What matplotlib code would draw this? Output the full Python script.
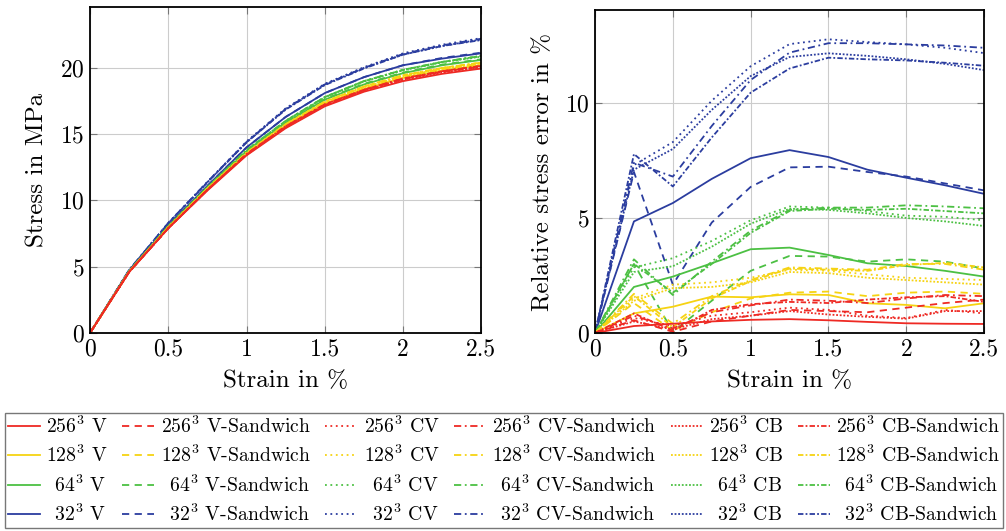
import matplotlib
matplotlib.use("Agg")
import matplotlib.pyplot as plt

plt.rcParams["font.family"] = "cmr10"
plt.rcParams["mathtext.fontset"] = "cm"
plt.rcParams["axes.formatter.use_mathtext"] = True

strain = [0, 0.25, 0.5, 0.75, 1.0, 1.25, 1.5, 1.75, 2.0, 2.25, 2.5]

resolutions = ["256", "128", "64", "32"]
methods = ["V", "V-Sandwich", "CV", "CV-Sandwich", "CB", "CB-Sandwich"]
colors = {"256": "#ee2a24", "128": "#f6d312", "64": "#4cc043", "32": "#2b3d9f"}
styles = {"V": "-", "V-Sandwich": (0, (4, 3)), "CV": (0, (1, 2)),
          "CV-Sandwich": (0, (4, 2, 1, 2)), "CB": (0, (1, 1)),
          "CB-Sandwich": (0, (3, 1.2, 1, 1.2))}

# stress in MPa (left)
stress_256_V = [0, 4.6, 7.9, 10.75, 13.4, 15.45, 17.1, 18.2, 19.0, 19.55, 19.95]
stress_256_VS = [0, 4.6, 7.9, 10.8, 13.45, 15.55, 17.2, 18.3, 19.15, 19.7, 20.1]
stress_256_CV = [0, 4.6, 7.9, 10.8, 13.45, 15.55, 17.2, 18.3, 19.1, 19.7, 20.05]
stress_256_CVS = [0, 4.6, 7.9, 10.8, 13.5, 15.6, 17.25, 18.35, 19.2, 19.75, 20.15]
stress_256_CB = [0, 4.6, 7.9, 10.8, 13.45, 15.5, 17.15, 18.3, 19.1, 19.65, 20.05]
stress_256_CBS = [0, 4.6, 7.9, 10.8, 13.5, 15.6, 17.25, 18.35, 19.2, 19.75, 20.15]

stress_128_V = [0, 4.62, 7.95, 10.85, 13.5, 15.6, 17.3, 18.4, 19.25, 19.8, 20.2]
stress_128_VS = [0, 4.62, 7.95, 10.85, 13.55, 15.65, 17.35, 18.45, 19.35, 19.9, 20.3]
stress_128_CV = [0, 4.63, 7.98, 10.9, 13.6, 15.75, 17.45, 18.55, 19.4, 19.95, 20.35]
stress_128_CVS = [0, 4.63, 7.98, 10.9, 13.6, 15.75, 17.45, 18.6, 19.45, 20.0, 20.4]
stress_128_CB = [0, 4.63, 7.97, 10.9, 13.58, 15.72, 17.42, 18.53, 19.38, 19.93, 20.33]
stress_128_CBS = [0, 4.63, 7.98, 10.9, 13.6, 15.76, 17.46, 18.6, 19.45, 20.0, 20.4]

stress_64_V = [0, 4.65, 8.0, 10.95, 13.7, 15.85, 17.6, 18.75, 19.6, 20.2, 20.6]
stress_64_VS = [0, 4.65, 8.0, 10.95, 13.7, 15.9, 17.65, 18.8, 19.65, 20.25, 20.65]
stress_64_CV = [0, 4.67, 8.05, 11.0, 13.8, 16.0, 17.8, 19.0, 19.85, 20.45, 20.9]
stress_64_CVS = [0, 4.67, 8.05, 11.0, 13.8, 16.0, 17.8, 19.0, 19.85, 20.45, 20.9]
stress_64_CB = [0, 4.67, 8.04, 11.0, 13.78, 15.98, 17.78, 18.97, 19.82, 20.42, 20.85]
stress_64_CBS = [0, 4.67, 8.05, 11.0, 13.8, 16.0, 17.8, 19.0, 19.85, 20.45, 20.9]

stress_32_V = [0, 4.7, 8.1, 11.1, 14.0, 16.3, 18.1, 19.3, 20.2, 20.7, 21.1]
stress_32_VS = [0, 4.7, 8.1, 11.1, 14.0, 16.3, 18.1, 19.3, 20.2, 20.75, 21.15]
stress_32_CV = [0, 4.75, 8.3, 11.4, 14.45, 16.95, 18.8, 20.05, 21.1, 21.75, 22.25]
stress_32_CVS = [0, 4.75, 8.3, 11.4, 14.4, 16.9, 18.75, 20.0, 21.05, 21.7, 22.2]
stress_32_CB = [0, 4.75, 8.28, 11.38, 14.4, 16.9, 18.75, 20.0, 21.0, 21.65, 22.15]
stress_32_CBS = [0, 4.75, 8.28, 11.36, 14.38, 16.85, 18.7, 19.95, 21.0, 21.65, 22.1]

# relative stress error in % (right)
err_256_V = [0, 0.3, 0.4, 0.5, 0.57, 0.6, 0.55, 0.48, 0.42, 0.4, 0.39]
err_256_VS = [0, 0.55, 0.05, 0.5, 0.75, 1.0, 0.95, 0.9, 1.1, 1.3, 1.45]
err_256_CV = [0, 0.65, 0.3, 0.75, 0.9, 1.1, 1.0, 0.75, 0.65, 1.0, 0.85]
err_256_CVS = [0, 0.75, 0.2, 0.9, 1.2, 1.45, 1.4, 1.3, 1.5, 1.65, 1.6]
err_256_CB = [0, 0.5, 0.15, 0.6, 0.75, 0.95, 0.8, 0.7, 0.62, 0.95, 0.95]
err_256_CBS = [0, 0.85, 0.1, 1.0, 1.25, 1.35, 1.3, 1.45, 1.55, 1.6, 1.35]

err_128_V = [0, 0.85, 1.14, 1.58, 1.55, 1.68, 1.65, 1.29, 1.22, 1.07, 1.29]
err_128_VS = [0, 1.3, 0.1, 0.9, 1.5, 1.75, 1.8, 1.6, 1.75, 1.8, 1.7]
err_128_CV = [0, 1.5, 2.1, 2.2, 2.4, 2.75, 2.7, 2.55, 2.4, 2.35, 2.3]
err_128_CVS = [0, 1.7, 0.4, 1.6, 2.3, 2.85, 2.8, 2.75, 3.0, 3.0, 2.75]
err_128_CB = [0, 1.4, 1.95, 2.0, 2.2, 2.65, 2.6, 2.4, 2.3, 2.2, 2.1]
err_128_CBS = [0, 1.6, 0.25, 1.5, 2.25, 2.8, 2.75, 2.7, 2.95, 3.05, 2.85]

err_64_V = [0, 2.0, 2.45, 3.03, 3.64, 3.71, 3.39, 3.03, 2.91, 2.7, 2.45]
err_64_VS = [0, 3.0, 0.05, 1.4, 2.7, 3.35, 3.32, 3.1, 3.2, 3.1, 2.8]
err_64_CV = [0, 2.85, 3.25, 4.0, 4.9, 5.5, 5.45, 5.3, 5.1, 5.05, 4.9]
err_64_CVS = [0, 3.2, 1.65, 3.1, 4.45, 5.35, 5.45, 5.45, 5.55, 5.5, 5.42]
err_64_CB = [0, 2.65, 2.9, 3.75, 4.75, 5.4, 5.35, 5.2, 5.0, 4.85, 4.65]
err_64_CBS = [0, 3.0, 1.75, 3.0, 4.35, 5.3, 5.4, 5.35, 5.4, 5.3, 5.2]

err_32_V = [0, 4.85, 5.65, 6.7, 7.6, 7.95, 7.65, 7.1, 6.75, 6.42, 6.05]
err_32_VS = [0, 7.0, 2.1, 4.8, 6.35, 7.2, 7.23, 7.0, 6.8, 6.5, 6.2]
err_32_CV = [0, 7.3, 8.3, 10.1, 11.6, 12.56, 12.77, 12.65, 12.55, 12.4, 12.17]
err_32_CVS = [0, 7.4, 6.8, 9.0, 11.0, 12.19, 12.6, 12.6, 12.55, 12.5, 12.4]
err_32_CB = [0, 7.1, 8.0, 9.7, 11.17, 12.0, 12.16, 12.05, 11.9, 11.7, 11.43]
err_32_CBS = [0, 7.78, 6.37, 8.5, 10.45, 11.5, 11.97, 11.9, 11.85, 11.75, 11.62]

stress = {
    "256": [stress_256_V, stress_256_VS, stress_256_CV, stress_256_CVS, stress_256_CB, stress_256_CBS],
    "128": [stress_128_V, stress_128_VS, stress_128_CV, stress_128_CVS, stress_128_CB, stress_128_CBS],
    "64": [stress_64_V, stress_64_VS, stress_64_CV, stress_64_CVS, stress_64_CB, stress_64_CBS],
    "32": [stress_32_V, stress_32_VS, stress_32_CV, stress_32_CVS, stress_32_CB, stress_32_CBS],
}
error = {
    "256": [err_256_V, err_256_VS, err_256_CV, err_256_CVS, err_256_CB, err_256_CBS],
    "128": [err_128_V, err_128_VS, err_128_CV, err_128_CVS, err_128_CB, err_128_CBS],
    "64": [err_64_V, err_64_VS, err_64_CV, err_64_CVS, err_64_CB, err_64_CBS],
    "32": [err_32_V, err_32_VS, err_32_CV, err_32_CVS, err_32_CB, err_32_CBS],
}

xticks = [0, 0.5, 1, 1.5, 2, 2.5]
xticklabels = ["0", "0.5", "1", "1.5", "2", "2.5"]

fig = plt.figure(figsize=(10.06, 5.31), dpi=100)
ax1 = fig.add_axes([0.0895, 0.373, 0.389, 0.614])
ax2 = fig.add_axes([0.5915, 0.373, 0.3867, 0.608])

handles = {}
for res in ["32", "64", "128", "256"]:
    for i, m in enumerate(methods):
        ax1.plot(strain, stress[res][i], color=colors[res], ls=styles[m], lw=1.3)
        h, = ax2.plot(strain, error[res][i], color=colors[res], ls=styles[m], lw=1.3)
        handles[(res, m)] = h

for ax in (ax1, ax2):
    ax.set_xlim(0, 2.5)
    ax.set_xticks(xticks)
    ax.set_xticklabels(xticklabels)
    ax.grid(True, color="#cccccc", lw=0.8)
    ax.set_axisbelow(True)
    ax.tick_params(direction="in", length=5, color="#777777", labelsize=17,
                   top=True, right=True)
    ax.tick_params(axis="x", pad=4)
    ax.tick_params(axis="y", pad=4)
    for s in ax.spines.values():
        s.set_linewidth(1.3)
    ax.set_xlabel("Strain in %", fontsize=18, labelpad=7)

ax1.set_ylim(0, 24.6)
ax1.set_yticks([0, 5, 10, 15, 20])
ax1.set_ylabel("Stress in MPa", fontsize=18, labelpad=8)
ax2.set_ylim(0, 14.04)
ax2.set_yticks([0, 5, 10])
ax2.set_ylabel("Relative stress error in %", fontsize=18, labelpad=8)

leg_handles = []
leg_labels = []
for m in methods:
    for res in resolutions:
        leg_handles.append(handles[(res, m)])
        pad = r"\enspace " if len(res) == 2 else ""
        leg_labels.append(r"$" + pad + res + r"^3$ " + m)

fig.legend(leg_handles, leg_labels, ncol=6, loc="lower left",
           bbox_to_anchor=(0.005, 0.006, 0.992, 0.23), mode="expand",
           fancybox=False, edgecolor="#555555", fontsize=14.2,
           handlelength=1.6, handletextpad=0.35, columnspacing=0.35,
           labelspacing=0.4, borderaxespad=0, borderpad=0.15)

fig.savefig("out.png", dpi=100)
